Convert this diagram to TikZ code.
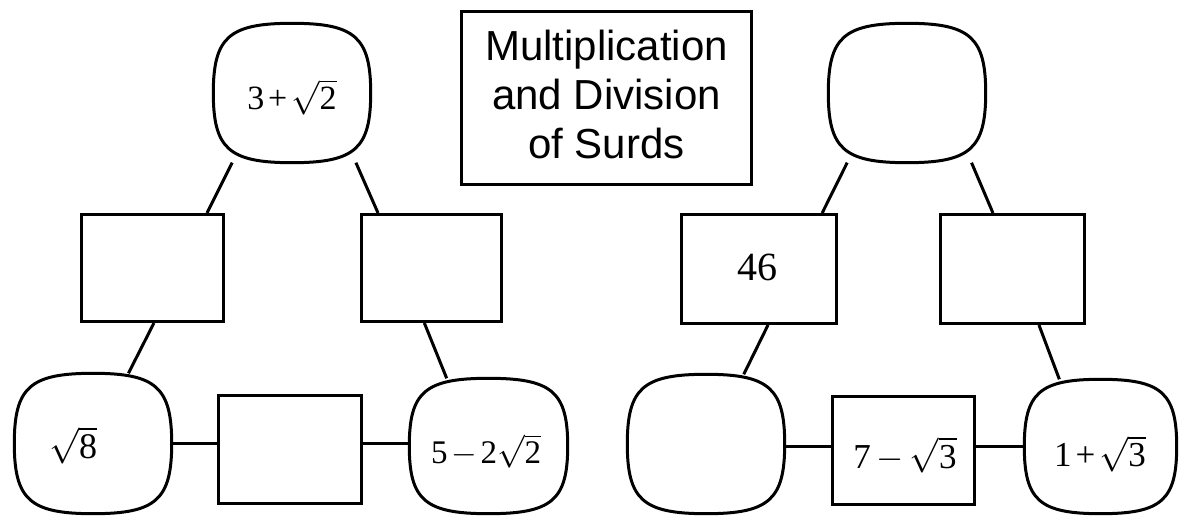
\documentclass[tikz,border=0pt]{standalone}
\usepackage{fix-cm}
\usepackage{fontspec}
\setmainfont{Liberation Serif}
\newfontfamily\titlefont{Liberation Sans}
\usetikzlibrary{calc}
\pgfdeclarelayer{bg}
\pgfdeclarelayer{mid}
\pgfsetlayers{bg,mid,main}
\def\kk{0.8}
\newcommand\squircle[1]{%
  \begin{pgfonlayer}{mid}
  \draw[blobline] (#1.east)
    .. controls ($(#1.east)!\kk!(#1.north east)$) and ($(#1.north)!\kk!(#1.north east)$) .. (#1.north)
    .. controls ($(#1.north)!\kk!(#1.north west)$) and ($(#1.west)!\kk!(#1.north west)$) .. (#1.west)
    .. controls ($(#1.west)!\kk!(#1.south west)$) and ($(#1.south)!\kk!(#1.south west)$) .. (#1.south)
    .. controls ($(#1.south)!\kk!(#1.south east)$) and ($(#1.east)!\kk!(#1.south east)$) .. (#1.east) -- cycle;
  \end{pgfonlayer}}
\newcommand\dg[1]{\mbox{\rmfamily #1}}
\newcommand\tplus{\mskip2mu\dg{+}\mskip2mu}
\tikzset{
  rectbox/.style={draw, line width=3pt, inner sep=0pt},
  blobnode/.style={draw=none, inner sep=0pt},
  blobline/.style={draw, fill=white, line width=3pt},
  conn/.style={line width=3pt},
  lbl/.style={inner sep=0pt, anchor=base, font=\rmfamily},
  titlebox/.style={draw, line width=3pt, inner sep=0pt, align=center,
    font=\titlefont\fontsize{42}{49}\selectfont}
}
\begin{document}
\begin{tikzpicture}[x=1pt,y=-1pt]
\useasboundingbox (0,0) rectangle (1181,518);
% left triangle
\node[blobnode, minimum width=157, minimum height=139] (T1) at (292,93) {};
\node[rectbox, minimum width=142, minimum height=107] (R1) at (152.5,268) {};
\node[rectbox, minimum width=140, minimum height=107] (R2) at (431.5,268) {};
\node[blobnode, minimum width=157, minimum height=140] (B1) at (93,443.5) {};
\node[rectbox, minimum width=143, minimum height=108] (R3) at (290,449.5) {};
\node[blobnode, minimum width=158, minimum height=135] (B2) at (488.5,446) {};
% right triangle
\node[blobnode, minimum width=157, minimum height=139] (T2) at (907,93) {};
\node[rectbox, minimum width=155, minimum height=109] (R4) at (759,269) {};
\node[rectbox, minimum width=144, minimum height=109] (R5) at (1012.5,269) {};
\node[blobnode, minimum width=157, minimum height=139] (B3) at (706,444) {};
\node[rectbox, minimum width=142, minimum height=108] (R6) at (903.5,450.5) {};
\node[blobnode, minimum width=152, minimum height=134] (B4) at (1100.5,446.5) {};
% title
\node[titlebox, minimum width=290, minimum height=173] (title) at (606.5,98)
  {Multiplication\\and Division\\of Surds\rule[-8pt]{0pt}{0pt}};
\foreach \b in {T1,B1,B2,T2,B3,B4} {\squircle{\b}}
% connectors
\begin{pgfonlayer}{bg}
\draw[conn] ($(R1.north west)!0.876!(R1.north east)$) -- ($(T1.south west)!0.12!(T1.south east)$);
\draw[conn] ($(R2.north west)!0.126!(R2.north east)$) -- ($(T1.south west)!0.906!(T1.south east)$);
\draw[conn] ($(R1.south west)!0.51!(R1.south east)$) -- ($(B1.north west)!0.725!(B1.north east)$);
\draw[conn] ($(R2.south west)!0.45!(R2.south east)$) -- ($(B2.north west)!0.236!(B2.north east)$);
\draw[conn] (B1.east) -- (B1.east -| R3.west);
\draw[conn] (B1.east -| R3.east) -- (B1.east -| B2.west);
\draw[conn] ($(R4.north west)!0.9!(R4.north east)$) -- ($(T2.south west)!0.12!(T2.south east)$);
\draw[conn] ($(R5.north west)!0.367!(R5.north east)$) -- ($(T2.south west)!0.91!(T2.south east)$);
\draw[conn] ($(R4.south west)!0.557!(R4.south east)$) -- ($(B3.north west)!0.74!(B3.north east)$);
\draw[conn] ($(R5.south west)!0.68!(R5.south east)$) -- ($(B4.north west)!0.23!(B4.north east)$);
\draw[conn] (B3.east |- B4.west) -- (R6.west |- B4.west);
\draw[conn] (R6.east |- B4.west) -- (B4.west);
\end{pgfonlayer}
% labels
\medmuskip=2mu
\node[lbl] (t1) at (292,110) {\fontsize{34}{40}\selectfont $\dg{3}\tplus\sqrt{\dg{2}}$};
\node[lbl] (t2) at (73,459) {\fontsize{36}{40}\selectfont $\sqrt{\dg{8}}$};
\node[lbl] (t3) at (486,464) {\fontsize{33}{40}\selectfont $\dg{5}-\dg{2}\sqrt{\dg{2}}$};
\node[lbl] (t4) at (757,281) {\fontsize{40}{44}\selectfont 46};
\node[lbl] (t5) at (905,468) {\fontsize{35}{40}\selectfont \medmuskip=3mu $\dg{7}-\sqrt{\dg{3}}$};
\node[lbl] (t6) at (1100,467) {\fontsize{35}{40}\selectfont $\dg{1}\tplus\sqrt{\dg{3}}$};
\end{tikzpicture}
\end{document}
